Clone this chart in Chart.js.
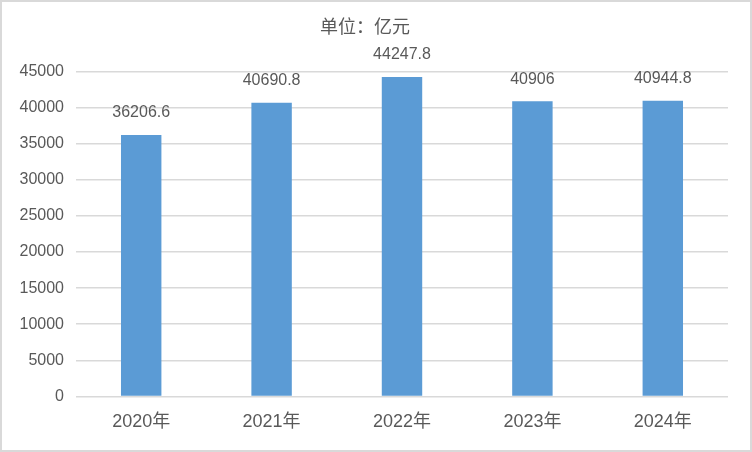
<!DOCTYPE html>
<html>
<head>
<meta charset="utf-8">
<script src="https://cdn.jsdelivr.net/npm/chart.js@4/dist/chart.umd.min.js"></script>
<style>
  html, body { margin: 0; padding: 0; background: #fff; }
  #wrap { width: 752px; height: 452px; box-sizing: border-box; border: 2px solid #d9d9d9; }
</style>
</head>
<body>
<div id="wrap"><canvas id="chart"></canvas></div>
<script>
// chart data
var years = ["2020年", "2021年", "2022年", "2023年", "2024年"];
var values = [36206.6, 40690.8, 44247.8, 40906, 40944.8];
var labelsText = ["36206.6", "40690.8", "44247.8", "40906", "40944.8"];

var FONT = '"Liberation Sans", "Noto Sans CJK SC", sans-serif';
var TEXT = '#595959';

// value labels above the bars
var barLabels = {
    id: 'barLabels',
    afterDatasetsDraw: function(chart){
        var ctx = chart.ctx;
        var meta = chart.getDatasetMeta(0);
        ctx.save();
        ctx.fillStyle = TEXT;
        ctx.font = '16px ' + FONT;
        ctx.textAlign = 'center';
        ctx.textBaseline = 'middle';
        meta.data.forEach(function(bar, i){
            ctx.fillText(labelsText[i], bar.x, bar.y - 22);
        });
        ctx.restore();
    }
};

var config = {
    type: 'bar',
    data: {
        labels: years,
        datasets: [{
            data: values,
            backgroundColor: '#5b9bd5',
            barPercentage: 0.31,
            categoryPercentage: 1
        }]
    },
    options: {
        responsive: true,
        maintainAspectRatio: false,
        animation: false,
        layout: { padding: { top: 0, right: 22, bottom: 10, left: 0 } },
        scales: {
            y: {
                min: 0,
                max: 45000,
                ticks: {
                    stepSize: 5000, padding: 12, color: TEXT, font: { size: 16, family: FONT },
                    callback: function(v){ return String(v); }
                },
                grid: { color: '#d9d9d9', lineWidth: 1.5, drawTicks: false },
                border: { display: false },
                afterFit: function(scale){ scale.width = 74; }
            },
            x: {
                ticks: { padding: 7, color: TEXT, font: { size: 18, family: FONT } },
                grid: { display: false },
                border: { display: false }
            }
        },
        plugins: {
            legend: { display: false },
            tooltip: { enabled: false },
            title: {
                display: true,
                text: '单位：亿元',
                color: TEXT,
                font: { size: 18, weight: 'normal', family: FONT },
                padding: { top: 15, bottom: 33 }
            }
        }
    },
    plugins: [barLabels]
};

new Chart(document.getElementById('chart').getContext('2d'), config);
</script>
</body>
</html>
